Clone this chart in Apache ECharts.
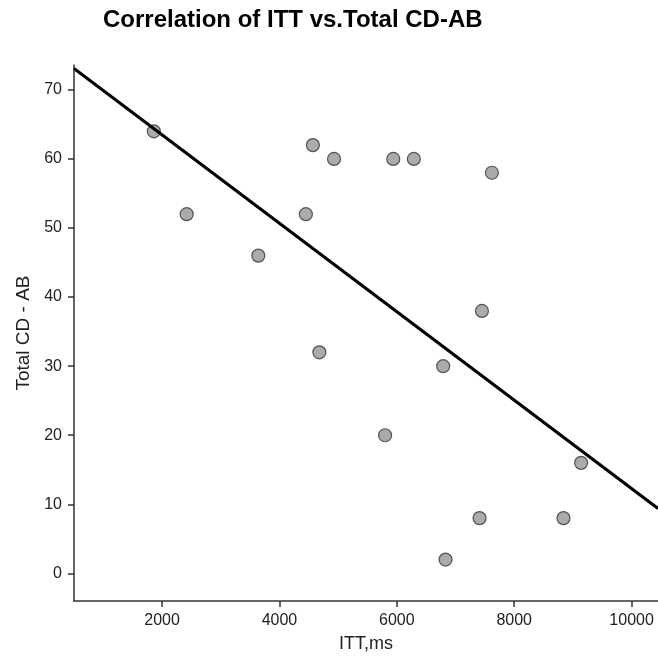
<!DOCTYPE html>
<html>
<head>
<meta charset="utf-8">
<script src="https://cdn.jsdelivr.net/npm/echarts@6/dist/echarts.min.js"></script>
<style>
  html, body { margin: 0; padding: 0; background: #fff; }
  #chart { width: 658px; height: 658px; }
</style>
</head>
<body>
<div id="chart"></div>
<script>
// ITT (ms) vs Total CD-AB
var ittMs = [1860, 2420, 3640, 4450, 4570, 4680, 4930, 5800, 5940, 6290, 6790, 6830, 7410, 7450, 7620, 8840, 9140];
var totalCdAb = [64, 52, 46, 52, 62, 32, 60, 20, 60, 60, 30, 2, 8, 38, 58, 8, 16];

// fitted line, ends at the axis edges
var fitX = [500, 10450];
var fitY = [73.1, 9.4];

var xTicks = [2000, 4000, 6000, 8000, 10000];
var yTicks = [0, 10, 20, 30, 40, 50, 60, 70];

var points = ittMs.map(function (x, i) { return [x, totalCdAb[i]]; });
var fitLine = fitX.map(function (x, i) { return [x, fitY[i]]; });

var chart = echarts.init(document.getElementById('chart'));

var axisColor = '#333';
var font = 'Liberation Sans, Arial, sans-serif';
var labelStyle = {
  color: '#222',
  fontFamily: font,
  fontSize: 16,
  formatter: function (v) { return String(v); }
};

chart.setOption({
  animation: false,
  title: {
    text: 'Correlation of ITT vs.Total CD-AB',
    left: 98,
    top: 3,
    textStyle: {
      fontFamily: font,
      fontWeight: 'bold',
      fontSize: 24,
      color: '#000'
    }
  },
  grid: {
    left: 74,
    right: 0,
    top: 65,
    bottom: 53
  },
  xAxis: {
    type: 'value',
    min: 500,
    max: 10450,
    name: 'ITT,ms',
    nameLocation: 'middle',
    nameGap: 34,
    nameTextStyle: { color: '#222', fontFamily: font, fontSize: 18 },
    axisLine: { show: true, onZero: false, lineStyle: { color: axisColor, width: 1.5 } },
    axisTick: {
      show: true,
      length: 6,
      customValues: xTicks,
      lineStyle: { color: axisColor, width: 1.5 }
    },
    axisLabel: Object.assign({ margin: 12, customValues: xTicks }, labelStyle),
    splitLine: { show: false }
  },
  yAxis: {
    type: 'value',
    min: -4,
    max: 73.6,
    name: 'Total CD - AB',
    nameLocation: 'middle',
    nameGap: 36,
    nameTextStyle: { color: '#222', fontFamily: font, fontSize: 19 },
    axisLine: { show: true, onZero: false, lineStyle: { color: axisColor, width: 1.5 } },
    axisTick: {
      show: true,
      length: 6,
      customValues: yTicks,
      lineStyle: { color: axisColor, width: 1.5 }
    },
    axisLabel: Object.assign({ margin: 12, customValues: yTicks }, labelStyle),
    splitLine: { show: false }
  },
  series: [
    {
      type: 'scatter',
      data: points,
      symbol: 'circle',
      symbolSize: 13,
      itemStyle: {
        color: '#969696',
        borderColor: '#333',
        borderWidth: 1.2
      },
      z: 2
    },
    {
      type: 'line',
      data: fitLine,
      showSymbol: false,
      lineStyle: { color: '#000', width: 3 },
      z: 3
    }
  ]
});
</script>
</body>
</html>
